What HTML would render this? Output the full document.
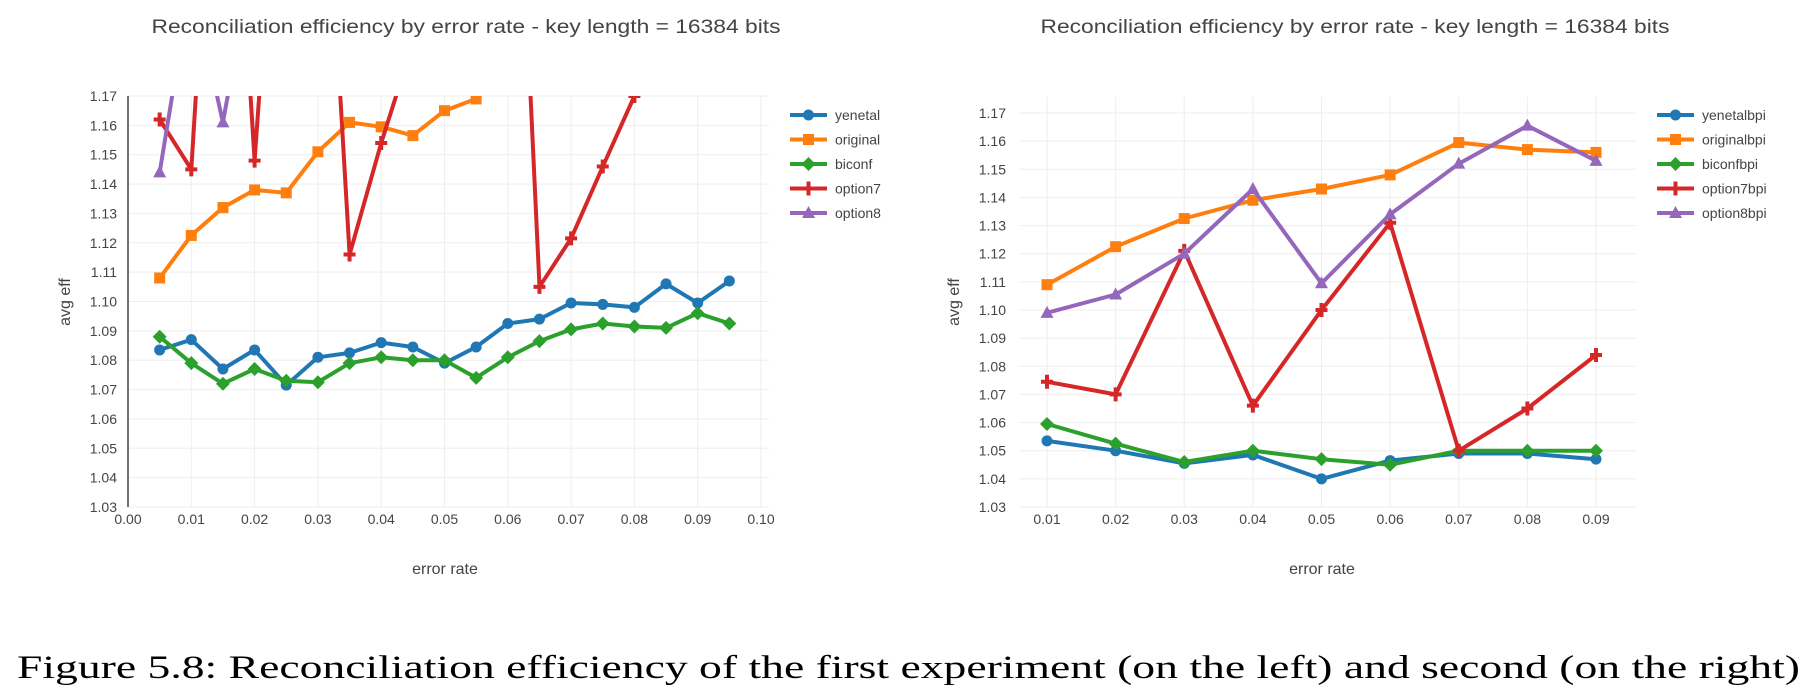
<!DOCTYPE html>
<html><head><meta charset="utf-8"><style>
body{margin:0;background:#fff;}
svg{display:block;font-family:"Liberation Sans",sans-serif;}
</style></head><body>
<svg id="chart" width="1818" height="700" viewBox="0 0 1818 700" xmlns="http://www.w3.org/2000/svg"></svg>
<script>
// ---- data: left chart ----
const leftX = [0.005,0.01,0.015,0.02,0.025,0.03,0.035,0.04,0.045,0.05,0.055,0.06,0.065,0.07,0.075,0.08,0.085,0.09,0.095];
const leftYenetal = [1.0835,1.087,1.077,1.0835,1.0715,1.081,1.0825,1.086,1.0845,1.079,1.0845,1.0925,1.094,1.0995,1.099,1.098,1.106,1.0995,1.107];
const leftOriginal = [1.108,1.1225,1.132,1.138,1.137,1.151,1.161,1.1595,1.1565,1.165,1.169,1.18,1.19,1.2,1.2,1.21,1.21,1.22,1.22];
const leftBiconf = [1.088,1.079,1.072,1.077,1.073,1.0725,1.079,1.081,1.080,1.080,1.074,1.081,1.0865,1.0905,1.0925,1.0915,1.091,1.096,1.0925];
const leftOption7 = [1.162,1.145,1.32,1.148,1.30,1.30,1.116,1.154,1.188,1.25,1.30,1.335,1.105,1.1215,1.146,1.17,1.2,1.2,1.2];
const leftOption8 = [1.144,1.21,1.161,1.22,1.25,1.25,1.25,1.25,1.25,1.25,1.25,1.25,1.25,1.25,1.25,1.25,1.25,1.25,1.25];
const leftXTicks = ["0.00","0.01","0.02","0.03","0.04","0.05","0.06","0.07","0.08","0.09","0.10"];
// ---- data: right chart ----
const rightX = [0.01,0.02,0.03,0.04,0.05,0.06,0.07,0.08,0.09];
const rightYenetal = [1.0535,1.050,1.0455,1.0485,1.040,1.0465,1.049,1.049,1.047];
const rightOriginal = [1.109,1.1225,1.1325,1.139,1.143,1.148,1.1595,1.157,1.156];
const rightBiconf = [1.0595,1.0525,1.046,1.050,1.047,1.045,1.050,1.050,1.050];
const rightOption7 = [1.0745,1.070,1.121,1.066,1.100,1.131,1.050,1.065,1.084];
const rightOption8 = [1.099,1.1055,1.120,1.143,1.1095,1.134,1.152,1.1655,1.153];
const rightXTicks = ["0.01","0.02","0.03","0.04","0.05","0.06","0.07","0.08","0.09"];
const yTicks = ["1.03","1.04","1.05","1.06","1.07","1.08","1.09","1.10","1.11","1.12","1.13","1.14","1.15","1.16","1.17"];
const colors = ["#1f77b4","#ff7f0e","#2ca02c","#d62728","#9467bd"];
const symbols = ["circle","square","diamond","cross","triangle"];

const NS="http://www.w3.org/2000/svg";
const svg=document.getElementById('chart');
function el(tag,attrs,parent){const e=document.createElementNS(NS,tag);for(const k in attrs)e.setAttribute(k,attrs[k]);(parent||svg).appendChild(e);return e;}

function marker(sym,x,y,c,g){
  let e;
  if(sym==='circle') e=el('circle',{cx:x,cy:y,r:5.5,fill:c},g);
  else if(sym==='square') e=el('rect',{x:x-5.5,y:y-5.5,width:11,height:11,fill:c},g);
  else if(sym==='diamond') e=el('path',{d:`M${x},${y-7}L${x+7},${y}L${x},${y+7}L${x-7},${y}Z`,fill:c},g);
  else if(sym==='cross') e=el('path',{d:`M${x-6},${y}H${x+6}M${x},${y-7}V${y+7}`,stroke:c,'stroke-width':4},g);
  else e=el('path',{d:`M${x},${y-7}L${x+6.5},${y+5}L${x-6.5},${y+5}Z`,fill:c},g);
  return e;
}

function chart(o){
  const g=el('g',{});
  
  
  const sx=v=>o.px0+(v-o.x0)/(o.x1-o.x0)*(o.px1-o.px0);
  const sy=v=>o.py0-(v-1.03)/(0.14)*(o.py0-o.py1);
  // title
  const t=el('text',{x:o.titleX,y:33,'text-anchor':'middle','font-size':19,fill:'#444',textLength:629,lengthAdjust:'spacingAndGlyphs'},g);
  t.textContent='Reconciliation efficiency by error rate - key length = 16384 bits';
  
  // grid
  yTicks.forEach(s=>{const v=parseFloat(s),y=sy(v);
    el('line',{x1:o.gx0,x2:o.gx1,y1:y,y2:y,stroke:'#eee','stroke-width':1},g);
    const tx=el('text',{x:o.ylabX,y:y+5,'text-anchor':'end','font-size':14,fill:'#444'},g);tx.textContent=s;
    
  });
  o.xTicks.forEach(s=>{const v=parseFloat(s),x=sx(v);
    el('line',{x1:x,x2:x,y1:o.gy0,y2:o.py0,stroke:'#eee','stroke-width':1},g);
    const tx=el('text',{x:x,y:524,'text-anchor':'middle','font-size':14,fill:'#444'},g);tx.textContent=s;
    
  });
  if(o.axisLine){el('line',{x1:o.px0,x2:o.px0,y1:o.gy0,y2:o.py0,stroke:'#444','stroke-width':1.5},g);}
  const yl=el('text',{x:0,y:0,transform:`translate(${o.yTitleX},302) rotate(-90)`,'text-anchor':'middle','font-size':16,fill:'#444'},g);
  yl.textContent='avg eff';
  const xl=el('text',{x:o.xTitleX,y:574,'text-anchor':'middle','font-size':16,fill:'#444'},g);
  xl.textContent='error rate';
  // clip
  const cp=el('clipPath',{id:o.name+'-clip'},g);
  el('rect',{x:o.gx0,y:o.gy0,width:o.gx1-o.gx0,height:o.py0-o.gy0+10},cp);
  const plot=el('g',{'clip-path':`url(#${o.name}-clip)`},g);
  o.series.forEach((ys,i)=>{
    const sg=el('g',{},plot);
    
    
    const d=ys.map((v,j)=>(j?'L':'M')+sx(o.xs[j]).toFixed(1)+','+sy(v).toFixed(1)).join('');
    el('path',{d:d,fill:'none',stroke:colors[i],'stroke-width':4,'stroke-linejoin':'round'},sg);
    ys.forEach((v,j)=>{const m=marker(symbols[i],sx(o.xs[j]),sy(v),colors[i],sg);
      });
  });
  // legend
  o.names.forEach((n,i)=>{
    const lg=el('g',{},g);
    
    
    const y=o.legY+i*24.5;
    el('line',{x1:o.legX,x2:o.legX+37,y1:y,y2:y,stroke:colors[i],'stroke-width':4},lg);
    marker(symbols[i],o.legX+18.5,y,colors[i],lg);
    const tx=el('text',{x:o.legX+45,y:y+5,'font-size':14,fill:'#444'},lg);tx.textContent=n;
  });
}

chart({name:'left-chart',xs:leftX,series:[leftYenetal,leftOriginal,leftBiconf,leftOption7,leftOption8],
  names:['yenetal','original','biconf','option7','option8'],xTicks:leftXTicks,
  x0:0,x1:0.10,px0:128,px1:761,py0:507,py1:96,gx0:128,gx1:769,gy0:96,axisLine:true,
  titleX:466,ylabX:117,yTitleX:70,xTitleX:445,legX:790,legY:115});
chart({name:'right-chart',xs:rightX,series:[rightYenetal,rightOriginal,rightBiconf,rightOption7,rightOption8],
  names:['yenetalbpi','originalbpi','biconfbpi','option7bpi','option8bpi'],xTicks:rightXTicks,
  x0:0.01,x1:0.09,px0:1047,px1:1596,py0:507,py1:113,gx0:1019,gx1:1636,gy0:97,axisLine:false,
  titleX:1355,ylabX:1006,yTitleX:959,xTitleX:1322,legX:1657,legY:115});

const cap=el('text',{x:17,y:678,'font-family':'"Liberation Serif",serif','font-size':33,fill:'#000',textLength:1783,lengthAdjust:'spacingAndGlyphs'});
cap.textContent='Figure 5.8: Reconciliation efficiency of the first experiment (on the left) and second (on the right)';


</script>
</body></html>
